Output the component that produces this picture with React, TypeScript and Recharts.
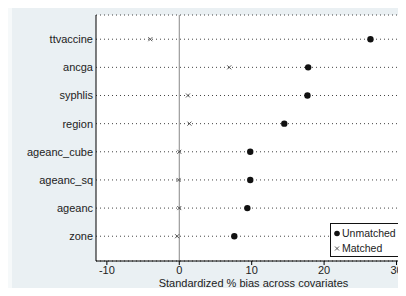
import React from "react"
import {
  ScatterChart,
  Scatter,
  XAxis,
  YAxis,
  CartesianGrid,
  ReferenceLine,
  Label,
} from "recharts"

const COVARIATES = ["zone", "ageanc", "ageanc_sq", "ageanc_cube", "region", "syphlis", "ancga", "ttvaccine"]
const UNMATCHED = [7.6, 9.4, 9.8, 9.8, 14.5, 17.7, 17.8, 26.4]
const MATCHED = [-0.3, 0.0, -0.1, 0.0, 1.4, 1.2, 6.9, -4.0]
const X_TICKS = [-10, 0, 10, 20, 30]

const unmatchedData = COVARIATES.map((name, i) => ({ name, row: i, bias: UNMATCHED[i] }))
const matchedData = COVARIATES.map((name, i) => ({ name, row: i, bias: MATCHED[i] }))

const FONT = "'Liberation Sans', Arial, sans-serif"

function Dot(props: any) {
  const { cx, cy } = props
  return <circle cx={cx} cy={cy} r={3.2} fill="#111" />
}

function Cross(props: any) {
  const { cx, cy } = props
  const s = 2
  return (
    <g stroke="#444" strokeWidth={0.9}>
      <line x1={cx - s} y1={cy - s} x2={cx + s} y2={cy + s} />
      <line x1={cx - s} y1={cy + s} x2={cx + s} y2={cy - s} />
    </g>
  )
}

export default function App() {
  return (
    <div
      style={{
        position: "relative",
        margin: -8,
        width: 406,
        height: 296,
        overflow: "hidden",
        background: "#f6f9fa",
        fontFamily: FONT,
      }}
    >
      {/* graph region */}
      <div
        style={{
          position: "absolute",
          left: 12,
          top: 5,
          width: 400,
          height: 285,
          background: "#eaf0f3",
        }}
      />
      <div style={{ position: "absolute", left: 0, top: 0 }}>
        <ScatterChart width={420} height={296} margin={{ top: 15, right: 9, bottom: 5, left: 0 }}>
          <CartesianGrid
            horizontal
            vertical={false}
            fill="#ffffff"
            stroke="#444"
            strokeDasharray="1 3"
          />
          <XAxis
            type="number"
            dataKey="bias"
            domain={[-11.5, 32]}
            ticks={X_TICKS}
            allowDataOverflow
            height={30}
            tickSize={4}
            tickMargin={1}
            stroke="#000"
            tick={{ fontSize: 11, fill: "#222", fontFamily: FONT }}
          >
            <Label
              value="Standardized % bias across covariates"
              position="insideBottom"
              offset={4}
              style={{ fontSize: 11, fill: "#222", fontFamily: FONT }}
            />
          </XAxis>
          <YAxis
            type="number"
            dataKey="row"
            domain={[-0.88, 7.86]}
            ticks={COVARIATES.map((_, i) => i)}
            tickFormatter={(v: number) => COVARIATES[v] ?? ""}
            width={96}
            tickSize={0}
            tickMargin={3}
            tickLine={false}
            stroke="#000"
            tick={{ fontSize: 11, fill: "#222", fontFamily: FONT }}
          />
          <ReferenceLine x={0} stroke="#888" strokeWidth={1} />
          <Scatter name="Unmatched" data={unmatchedData} shape={Dot} isAnimationActive={false} />
          <Scatter name="Matched" data={matchedData} shape={Cross} isAnimationActive={false} />
        </ScatterChart>
      </div>
      {/* legend */}
      <div
        style={{
          position: "absolute",
          left: 330,
          top: 223,
          width: 71,
          height: 34,
          background: "#fff",
          border: "1px solid #111",
          fontSize: 10.5,
          color: "#222",
          lineHeight: "15px",
          paddingTop: 2,
          boxSizing: "border-box",
          whiteSpace: "nowrap",
        }}
      >
        <div style={{ display: "flex", alignItems: "center" }}>
          <svg width={11} height={15}>
            <circle cx={6} cy={7.5} r={2.8} fill="#111" />
          </svg>
          <span>Unmatched</span>
        </div>
        <div style={{ display: "flex", alignItems: "center" }}>
          <svg width={11} height={15}>
            <g stroke="#444" strokeWidth={0.9}>
              <line x1={4} y1={5.5} x2={8} y2={9.5} />
              <line x1={4} y1={9.5} x2={8} y2={5.5} />
            </g>
          </svg>
          <span>Matched</span>
        </div>
      </div>
    </div>
  )
}
